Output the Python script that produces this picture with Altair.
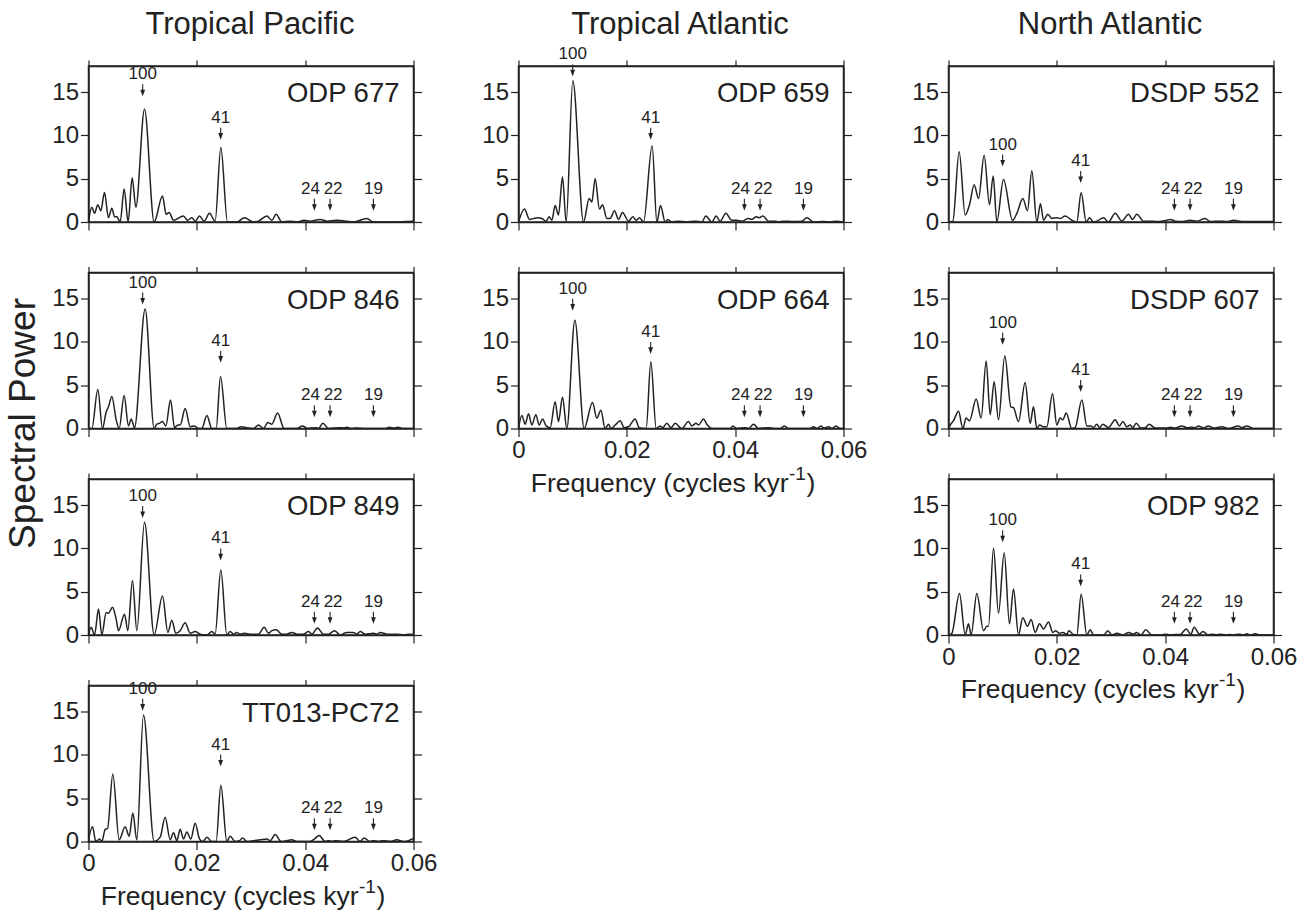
import altair as alt
import pandas as pd

# ---------------- data ----------------
COLUMN_TITLES = ["Tropical Pacific", "Tropical Atlantic", "North Atlantic"]
# grid of panels, row by row (None = empty cell)
GRID = [
    ["ODP 677", "ODP 659", "DSDP 552"],
    ["ODP 846", "ODP 664", "DSDP 607"],
    ["ODP 849", None, "ODP 982"],
    ["TT013-PC72", None, None],
]

# (frequency [cycles/kyr], spectral power)
ODP677 = [(0, 0), (.00062, 1.7), (.00111, 1.0), (.00172, 2.0), (.00228, 1.3), (.00295, 3.4), (.00369, 0.5),
          (.00431, 1.6), (.00480, 0.6), (.00523, 0.6), (.00585, 0.0), (.00658, 3.8), (.00732, 0.0), (.00806, 5.1),
          (.00874, 1.7), (.01034, 13.0), (.01212, 0.0), (.01366, 3.0), (.01434, 0.9), (.01489, 1.1), (.01569, 0.2),
          (.01754, 0.7), (.01828, 0.2), (.01908, 0.5), (.01969, 0.1), (.02049, 0.7), (.02135, 0.1), (.02234, 1.0),
          (.02338, 0.1), (.02443, 8.6), (.02566, 0.0), (.02738, 0.0), (.02880, 0.5), (.03046, 0.0), (.03138, 0.1),
          (.03292, 0.7), (.03385, 0.2), (.03465, 0.9), (.03569, 0.0), (.03723, 0.1), (.03846, 0.0), (.03982, 0.2),
          (.04092, 0.1), (.04277, 0.3), (.04400, 0.1), (.04585, 0.2), (.04769, 0.1), (.04892, 0.0), (.05138, 0.4),
          (.05262, 0.0), (.06, 0.1)]
ODP846 = [(0, 0), (.00062, 0.0), (.00172, 4.5), (.00258, 0.0), (.00326, 1.9), (.00369, 2.5), (.00431, 3.7),
          (.00511, 1.0), (.00566, 0.0), (.00658, 3.8), (.00738, 0.3), (.00788, 1.1), (.00849, 0.1), (.01046, 13.8),
          (.01212, 0.0), (.01262, 0.5), (.01311, 0.6), (.01366, 0.8), (.01428, 0.3), (.01514, 3.3), (.01588, 0.1),
          (.01649, 0.4), (.01692, 0.4), (.01785, 2.3), (.01877, 0.2), (.01957, 0.3), (.02031, 0.0), (.02092, 0.0),
          (.02185, 1.5), (.02277, 0.0), (.02357, 0.0), (.02437, 6.0), (.02554, 0.0), (.02738, 0.0), (.02812, 0.2),
          (.02923, 0.1), (.03046, 0.0), (.03138, 0.4), (.03231, 0.0), (.03311, 0.7), (.03385, 0.5), (.03490, 1.8),
          (.03612, 0.0), (.03846, 0.0), (.03951, 0.3), (.04043, 0.0), (.04185, 0.1), (.04246, 0.0), (.04326, 0.6),
          (.04431, 0.0), (.04646, 0.1), (.04708, 0.05), (.04769, 0.15), (.04862, 0.0), (.04923, 0.05), (.05138, 0.0),
          (.05477, 0.0), (.05557, 0.15), (.05631, 0.05), (.05711, 0.15), (.05815, 0.0), (.06, 0.0)]
ODP849 = [(0, 0), (.00049, 0.9), (.00111, 0.0), (.00185, 3.0), (.00246, 0.0), (.00326, 2.6), (.00369, 2.5),
          (.00443, 3.2), (.00511, 1.8), (.00554, 0.5), (.00665, 2.4), (.00726, 0.5), (.00812, 6.3), (.00892, 0.5),
          (.01034, 13.0), (.01212, 0.0), (.01366, 4.5), (.01465, 0.3), (.01538, 1.7), (.01612, 0.2), (.01692, 0.5),
          (.01785, 1.4), (.01877, 0.2), (.01969, 0.4), (.02062, 0.1), (.02185, 0.0), (.02277, 0.4), (.02338, 0.1),
          (.02443, 7.5), (.02554, 0.0), (.02615, 0.4), (.02677, 0.1), (.02738, 0.3), (.02800, 0.1), (.02880, 0.2),
          (.02985, 0.1), (.03138, 0.1), (.03243, 0.9), (.03323, 0.2), (.03385, 0.5), (.03465, 0.6), (.03569, 0.1),
          (.03662, 0.1), (.03754, 0.3), (.03846, 0.1), (.03969, 0.1), (.04062, 0.4), (.04123, 0.1), (.04228, 0.8),
          (.04338, 0.1), (.04431, 0.1), (.04542, 0.5), (.04646, 0.0), (.04769, 0.3), (.04892, 0.3), (.04954, 0.1),
          (.05015, 0.4), (.05108, 0.1), (.05262, 0.2), (.05323, 0.1), (.05385, 0.3), (.05508, 0.1), (.05692, 0.1),
          (.05815, 0.0), (.05938, 0.1), (.06, 0.05)]
TT013 = [(0, 0.2), (.00074, 1.7), (.00135, 0.0), (.00203, 0.3), (.00246, 0.0), (.00308, 1.4), (.00351, 1.5),
         (.00449, 7.8), (.00566, 0.2), (.00677, 1.7), (.00751, 0.6), (.00818, 3.3), (.00892, 0.2), (.01015, 14.6),
         (.01212, 0.0), (.01323, 0.5), (.01415, 2.8), (.01508, 0.2), (.01569, 1.0), (.01631, 0.1), (.01692, 1.4),
         (.01754, 0.3), (.01815, 1.1), (.01889, 0.3), (.01969, 2.1), (.02049, 0.3), (.02111, 0.0), (.02185, 0.5),
         (.02277, 0.0), (.02357, 0.0), (.02443, 6.5), (.02554, 0.0), (.02615, 0.6), (.02708, 0.0), (.02788, 0.1),
         (.02843, 0.4), (.02923, 0.0), (.03046, 0.1), (.03169, 0.2), (.03292, 0.3), (.03354, 0.1), (.03446, 0.8),
         (.03557, 0.0), (.03662, 0.1), (.03754, 0.2), (.03846, 0.0), (.04092, 0.0), (.04172, 0.3), (.04258, 0.7),
         (.04369, 0.0), (.04431, 0.1), (.04492, 0.0), (.04554, 0.1), (.04708, 0.0), (.04923, 0.5), (.05015, 0.0),
         (.05089, 0.4), (.05200, 0.0), (.05262, 0.1), (.05354, 0.0), (.05446, 0.1), (.05569, 0.0), (.05692, 0.2),
         (.05815, 0.0), (.05908, 0.1), (.05983, 0.3), (.06, 0.3)]
ODP659 = [(0, 0), (.00111, 1.5), (.00203, 0.3), (.00277, 0.4), (.00351, 0.5), (.00431, 0.4), (.00511, 0.1),
          (.00566, 0.6), (.00615, 0.2), (.00677, 1.9), (.00738, 0.8), (.00812, 5.2), (.00880, 0.0), (.01003, 16.3),
          (.01200, 0.0), (.01305, 2.7), (.01354, 2.3), (.01415, 5.0), (.01495, 1.5), (.01551, 2.0), (.01631, 0.4),
          (.01692, 0.4), (.01772, 1.3), (.01846, 0.3), (.01920, 1.1), (.02031, 0.1), (.02111, 0.6), (.02172, 0.2),
          (.02234, 0.5), (.02308, 0.0), (.02468, 8.8), (.02554, 0.0), (.02622, 1.9), (.02708, 0.0), (.02757, 0.3),
          (.02831, 0.0), (.02954, 0.1), (.03108, 0.0), (.03262, 0.1), (.03385, 0.0), (.03458, 0.7), (.03569, 0.0),
          (.03649, 0.7), (.03723, 0.1), (.03828, 1.0), (.03938, 0.2), (.04031, 0.2), (.04123, 0.1), (.04246, 0.4),
          (.04308, 0.3), (.04388, 0.6), (.04443, 0.5), (.04511, 0.7), (.04615, 0.1), (.04738, 0.1), (.04800, 0.0),
          (.04892, 0.1), (.05077, 0.05), (.05231, 0.1), (.05323, 0.5), (.05446, 0.0), (.05631, 0.05), (.05754, 0.0),
          (.05877, 0.1), (.06, 0.0)]
ODP664 = [(0, 0), (.00062, 1.5), (.00123, 0.5), (.00185, 1.7), (.00246, 0.4), (.00320, 1.6), (.00382, 0.4),
          (.00443, 1.1), (.00511, 0.3), (.00585, 0.1), (.00677, 3.1), (.00738, 0.8), (.00812, 3.6), (.00892, 0.0),
          (.01040, 12.5), (.01212, 0.0), (.01366, 3.0), (.01446, 1.2), (.01520, 2.1), (.01600, 0.0), (.01662, 0.5),
          (.01705, 0.0), (.01785, 0.4), (.01877, 0.9), (.01951, 0.1), (.02031, 0.2), (.02154, 1.1), (.02228, 0.1),
          (.02357, 0.0), (.02443, 7.7), (.02542, 0.0), (.02615, 0.3), (.02665, 0.1), (.02738, 0.6), (.02818, 0.1),
          (.02892, 0.6), (.03015, 0.0), (.03138, 0.8), (.03200, 0.3), (.03280, 0.6), (.03323, 0.4), (.03415, 1.1),
          (.03477, 0.5), (.03569, 0.0), (.03908, 0.0), (.03957, 0.3), (.04031, 0.0), (.04185, 0.1), (.04246, 0.0),
          (.04338, 0.5), (.04431, 0.0), (.04615, 0.1), (.04708, 0.0), (.04831, 0.0), (.04911, 0.3), (.04985, 0.0),
          (.05385, 0.0), (.05446, 0.2), (.05508, 0.0), (.05582, 0.3), (.05643, 0.05), (.05723, 0.2), (.05785, 0.0),
          (.05865, 0.3), (.05938, 0.0), (.06, 0.0)]
DSDP552 = [(0, 0), (.00080, 0.1), (.00197, 8.1), (.00308, 0.8), (.00388, 2.0), (.00474, 4.3), (.00554, 2.7),
           (.00658, 7.7), (.00757, 2.0), (.00825, 5.3), (.00892, 0.0), (.01015, 4.9), (.01182, 0.2), (.01262, 1.0),
           (.01372, 2.7), (.01458, 1.3), (.01538, 5.9), (.01631, 0.0), (.01698, 2.1), (.01754, 0.2), (.01834, 0.9),
           (.01908, 0.4), (.02000, 0.5), (.02062, 0.4), (.02154, 0.7), (.02277, 0.2), (.02369, 0.0), (.02449, 3.4),
           (.02542, 0.0), (.02603, 0.5), (.02677, 0.0), (.02738, 0.1), (.02862, 0.5), (.02954, 0.0), (.03077, 1.0),
           (.03200, 0.1), (.03323, 0.9), (.03397, 0.3), (.03477, 0.9), (.03600, 0.1), (.03723, 0.1), (.03846, 0.05),
           (.03938, 0.1), (.04031, 0.2), (.04092, 0.3), (.04185, 0.1), (.04308, 0.05), (.04462, 0.2), (.04585, 0.1),
           (.04738, 0.4), (.04831, 0.05), (.05015, 0.1), (.05138, 0.05), (.05262, 0.2), (.05446, 0.05), (.06, 0.05)]
DSDP607 = [(0, 0), (.00043, 0.5), (.00092, 0.9), (.00185, 2.0), (.00265, 0.0), (.00326, 1.2), (.00388, 0.9),
           (.00511, 3.4), (.00603, 1.2), (.00695, 7.8), (.00769, 1.6), (.00843, 5.4), (.00923, 1.0), (.01040, 8.4),
           (.01151, 2.5), (.01200, 2.4), (.01292, 0.8), (.01415, 5.3), (.01508, 0.6), (.01569, 2.5), (.01631, 0.0),
           (.01680, 0.4), (.01754, 0.2), (.01815, 0.2), (.01920, 4.0), (.02000, 0.4), (.02062, 1.2), (.02111, 1.0),
           (.02172, 1.8), (.02277, 0.0), (.02338, 0.1), (.02462, 3.3), (.02554, 0.3), (.02628, 0.3), (.02677, 0.1),
           (.02738, 0.5), (.02788, 0.1), (.02849, 0.5), (.02954, 0.1), (.03077, 1.0), (.03157, 0.3), (.03218, 0.8),
           (.03292, 0.2), (.03354, 0.4), (.03403, 0.1), (.03465, 0.6), (.03551, 0.05), (.03631, 0.1), (.03705, 0.5),
           (.03815, 0.05), (.04031, 0.05), (.04092, 0.15), (.04185, 0.05), (.04308, 0.3), (.04400, 0.1),
           (.04492, 0.15), (.04554, 0.1), (.04615, 0.3), (.04708, 0.05), (.04800, 0.3), (.04892, 0.05), (.05046, 0.2),
           (.05169, 0.0), (.05354, 0.3), (.05415, 0.1), (.05508, 0.3), (.05631, 0.0), (.06, 0.0)]
ODP982 = [(0, 0), (.00062, 0.2), (.00203, 4.8), (.00308, 0.0), (.00369, 1.3), (.00418, 0.0), (.00523, 4.8),
          (.00646, 0.5), (.00708, 1.0), (.00738, 1.0), (.00831, 10.0), (.00923, 2.5), (.01028, 9.5), (.01126, 1.3),
          (.01200, 5.3), (.01292, 0.0), (.01372, 2.0), (.01458, 1.0), (.01526, 1.8), (.01600, 0.3), (.01680, 1.3),
          (.01754, 0.7), (.01846, 1.5), (.01926, 0.3), (.01982, 0.5), (.02043, 0.2), (.02111, 0.3), (.02185, 0.1),
          (.02222, 0.5), (.02308, 0.05), (.02369, 0.0), (.02449, 4.7), (.02554, 0.0), (.02615, 0.6), (.02677, 0.0),
          (.02862, 0.0), (.02942, 0.5), (.03015, 0.0), (.03108, 0.2), (.03231, 0.0), (.03323, 0.3), (.03403, 0.1),
          (.03477, 0.3), (.03551, 0.0), (.03643, 0.6), (.03754, 0.0), (.03938, 0.0), (.04000, 0.1), (.04092, 0.0),
          (.04185, 0.05), (.04277, 0.05), (.04388, 0.7), (.04474, 0.1), (.04535, 0.9), (.04634, 0.1), (.04695, 0.4),
          (.04800, 0.0), (.04862, 0.1), (.04954, 0.0), (.05015, 0.1), (.05108, 0.0), (.05200, 0.05), (.05262, 0.0),
          (.05354, 0.1), (.05446, 0.0), (.05508, 0.15), (.05569, 0.0), (.05662, 0.15), (.05754, 0.0), (.06, 0.0)]

SPECTRA = {"ODP 677": ODP677, "ODP 846": ODP846, "ODP 849": ODP849, "TT013-PC72": TT013,
           "ODP 659": ODP659, "ODP 664": ODP664,
           "DSDP 552": DSDP552, "DSDP 607": DSDP607, "ODP 982": ODP982}

# orbital periods marked by arrows (kyr) and their frequencies
PERIOD_LABELS = ["100", "41", "24", "22", "19"]
PERIOD_FREQ = [0.0100, 0.0244, 0.0417, 0.0446, 0.0526]
# power value at the arrow tip, for each period
ARROW_TIPS = {
    "ODP 677": [14.5, 9.5, 1.3, 1.3, 1.3],
    "ODP 846": [14.3, 7.6, 1.3, 1.3, 1.3],
    "ODP 849": [13.5, 8.6, 1.3, 1.3, 1.3],
    "TT013-PC72": [15.1, 8.65, 1.3, 1.3, 1.3],
    "ODP 659": [16.8, 9.5, 1.3, 1.3, 1.3],
    "ODP 664": [13.6, 8.6, 1.3, 1.3, 1.3],
    "DSDP 552": [6.4, 4.5, 1.3, 1.3, 1.3],
    "DSDP 607": [9.65, 4.2, 1.3, 1.3, 1.3],
    "ODP 982": [10.7, 5.6, 1.3, 1.3, 1.3],
}

X_TICKS = [0, 0.02, 0.04, 0.06]
Y_TICKS = [0, 5, 10, 15]
X_TITLE_MAIN, X_TITLE_SUP, X_TITLE_END = "Frequency (cycles kyr", "-1", ")"
Y_TITLE = "Spectral Power"

# ---------------- styling ----------------
FONT = "Liberation Sans, Arial, Helvetica, sans-serif"
INK = "#222222"
W, H = 325, 156
XS = alt.Scale(domain=[0, 0.06], nice=False, zero=False)
YS = alt.Scale(domain=[0, 18], nice=False, zero=False)
ARROW_PATH = "M0,0L-0.8,-2.2L0.8,-2.2Z"
ANN_SIZE = 17


def text_layer(txt, size, x, y, align="center", baseline="alphabetic", angle=0):
    kw = dict(fontSize=size, align=align, baseline=baseline, color=INK)
    if angle:
        kw["angle"] = angle
    return alt.Chart(pd.DataFrame({"t": [txt]})).mark_text(**kw).encode(
        text="t:N", x=alt.value(x), y=alt.value(y))


def panel(site, col_title=None, bottom=False, ylab=False):
    df = pd.DataFrame(SPECTRA[site], columns=["freq", "power"])
    arr = pd.DataFrame({"period": PERIOD_LABELS, "freq": PERIOD_FREQ, "tip": ARROW_TIPS[site]})

    line = alt.Chart(df).mark_line(interpolate="monotone", color=INK, strokeWidth=1.5, clip=True).encode(
        x=alt.X("freq:Q", scale=XS, axis=alt.Axis(orient="bottom", values=X_TICKS, format="~g",
                                                   labels=bottom, tickSize=8, title=None)),
        y=alt.Y("power:Q", scale=YS, axis=alt.Axis(orient="left", values=Y_TICKS, tickSize=8, title=None)),
    )
    frame = alt.Chart(df).mark_line(opacity=0).encode(
        x=alt.X("freq:Q", scale=XS, axis=alt.Axis(orient="top", values=X_TICKS, labels=False,
                                                   tickSize=6, title=None)),
        y=alt.Y("power:Q", scale=YS, axis=alt.Axis(orient="right", values=Y_TICKS, labels=False,
                                                    tickSize=8, title=None)),
    )
    ax = alt.X("freq:Q", scale=XS, axis=None)
    ay = alt.Y("tip:Q", scale=YS, axis=None)
    shaft = alt.Chart(arr).mark_rule(color=INK, strokeWidth=1.1, yOffset=-5, y2Offset=-12).encode(
        x=ax, y=ay, y2=alt.Y2("tip:Q"))
    head = alt.Chart(arr).mark_point(shape=ARROW_PATH, filled=True, size=36, color=INK, opacity=1,
                                     strokeWidth=0).encode(x=ax, y=ay)
    lab_main = alt.Chart(arr).transform_filter(
        "datum.period != '24' && datum.period != '22'").mark_text(
        fontSize=ANN_SIZE, baseline="alphabetic", align="center", dy=-17, color=INK).encode(
        x=ax, y=ay, text="period:N")
    lab24 = alt.Chart(arr).transform_filter("datum.period == '24'").mark_text(
        fontSize=ANN_SIZE, baseline="alphabetic", align="center", dy=-17, dx=-4, color=INK).encode(
        x=ax, y=ay, text="period:N")
    lab22 = alt.Chart(arr).transform_filter("datum.period == '22'").mark_text(
        fontSize=ANN_SIZE, baseline="alphabetic", align="center", dy=-17, dx=3, color=INK).encode(
        x=ax, y=ay, text="period:N")
    name = text_layer(site, 27.5, W - 14, 28, align="right", baseline="middle")

    layers = [line, frame, shaft, head, lab_main, lab24, lab22, name]
    if col_title:
        layers.append(text_layer(col_title, 31, W / 2 - 1, -32))
    if bottom:
        layers.append(text_layer(X_TITLE_MAIN, 26.5, 270, H + 63, align="right"))
        layers.append(text_layer(X_TITLE_SUP, 19, 270.5, H + 51, align="left"))
        layers.append(text_layer(X_TITLE_END, 26.5, 288, H + 63, align="left"))
    if ylab:
        layers.append(text_layer(Y_TITLE, 37, -54, 151, angle=270))

    return alt.layer(*layers).resolve_scale(x="independent", y="independent").properties(width=W, height=H)


def empty_cell():
    return alt.Chart(pd.DataFrame({"v": [0]})).mark_point(opacity=0).encode(
        x=alt.X("v:Q", axis=None), y=alt.Y("v:Q", axis=None)
    ).properties(width=W, height=H, view=alt.ViewBackground(stroke="transparent"))


cells = []
for ri, row in enumerate(GRID):
    for ci, site in enumerate(row):
        if site is None:
            cells.append(empty_cell())
            continue
        below = GRID[ri + 1][ci] if ri + 1 < len(GRID) else None
        cells.append(panel(site,
                           col_title=COLUMN_TITLES[ci] if ri == 0 else None,
                           bottom=(below is None),
                           ylab=(ci == 0 and ri == 1)))

chart = alt.concat(*cells, columns=3, bounds="flush",
                   spacing=alt.RowColnumber(row=50.5, column=105)).properties(
    padding={"left": 3.5, "top": 8, "right": 0, "bottom": 0}
).configure_view(stroke=INK, strokeWidth=1.5).configure_axis(
    domainColor=INK, domainWidth=1.5, tickColor=INK, tickWidth=1.2, grid=False,
    labelFont=FONT, labelFontSize=24, labelColor=INK, labelPadding=2, labelFlush=False
).configure_text(font=FONT)

chart.save("out.html", embed_options={"renderer": "svg", "actions": False})
